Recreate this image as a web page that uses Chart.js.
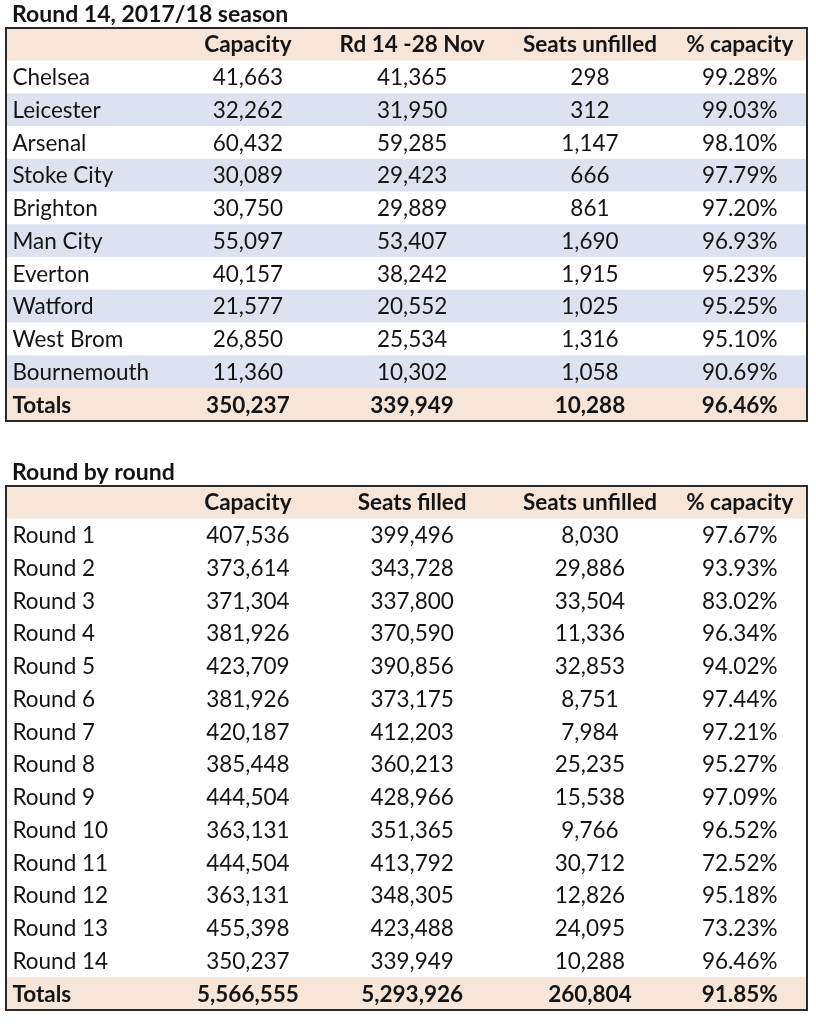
<!DOCTYPE html>
<html>
<head>
<meta charset="utf-8">
<script src="https://cdn.jsdelivr.net/npm/chart.js@4.4.1/dist/chart.umd.min.js"></script>
<style>
    body { margin: 0; background: #fff; }
    .box { position: absolute; left: 0; width: 816px; }
</style>
</head>
<body>
<div class="box" style="top:0; height:430px;"><canvas id="SeasonTable"></canvas></div>
<div class="box" style="top:450px; height:574px;"><canvas id="RoundTable"></canvas></div>
<script>
// Round 14 table
const seasonTitle = 'Round 14, 2017/18 season';
const seasonHeaders = ['Capacity', 'Rd 14 -28 Nov', 'Seats unfilled', '% capacity'];
const seasonTeams = ['Chelsea', 'Leicester', 'Arsenal', 'Stoke City', 'Brighton', 'Man City', 'Everton', 'Watford', 'West Brom', 'Bournemouth'];
const seasonCapacity = [41663, 32262, 60432, 30089, 30750, 55097, 40157, 21577, 26850, 11360];
const seasonAttendance = [41365, 31950, 59285, 29423, 29889, 53407, 38242, 20552, 25534, 10302];
const seasonUnfilled = [298, 312, 1147, 666, 861, 1690, 1915, 1025, 1316, 1058];
const seasonPct = [99.28, 99.03, 98.10, 97.79, 97.20, 96.93, 95.23, 95.25, 95.10, 90.69];
const seasonTotals = [350237, 339949, 10288, 96.46];

// Round by round table
const roundTitle = 'Round by round';
const roundHeaders = ['Capacity', 'Seats filled', 'Seats unfilled', '% capacity'];
const rounds = ['Round 1', 'Round 2', 'Round 3', 'Round 4', 'Round 5', 'Round 6', 'Round 7',
    'Round 8', 'Round 9', 'Round 10', 'Round 11', 'Round 12', 'Round 13', 'Round 14'];
const roundCapacity = [407536, 373614, 371304, 381926, 423709, 381926, 420187, 385448, 444504, 363131, 444504, 363131, 455398, 350237];
const roundFilled = [399496, 343728, 337800, 370590, 390856, 373175, 412203, 360213, 428966, 351365, 413792, 348305, 423488, 339949];
const roundUnfilled = [8030, 29886, 33504, 11336, 32853, 8751, 7984, 25235, 15538, 9766, 30712, 12826, 24095, 10288];
const roundPct = [97.67, 93.93, 83.02, 96.34, 94.02, 97.44, 97.21, 95.27, 97.09, 96.52, 72.52, 95.18, 73.23, 96.46];
const roundTotals = [5566555, 5293926, 260804, 91.85];

const PEACH = '#f7e5d8';
const BLUE = '#dde2f0';
const INK = '#141414';
const FONT = 'Lato, "Open Sans", sans-serif';
// first entry: left edge of row names, others: column centres (share of table width)
const COL_X = [0.008, 0.302, 0.507, 0.729, 0.916];

const fmtInt = v => v.toLocaleString('en-US');
const fmtPct = v => v.toFixed(2) + '%';

function makeTable(id, title, headers, names, cols, totals, striped, padding) {
    const rowNames = ['', ...names, 'Totals'];
    const fills = rowNames.map((n, i) => {
        if (i === 0 || i === rowNames.length - 1) return PEACH;
        return striped && i % 2 === 0 ? BLUE : '#ffffff';
    });

    const cellText = {
        id: 'cellText',
        afterDatasetsDraw(chart) {
            const c = chart.ctx;
            const x = chart.scales.x;
            const y = chart.scales.y;
            const area = chart.chartArea;
            c.save();
            c.fillStyle = INK;
            c.textBaseline = 'alphabetic';

            // title above the box
            c.font = 'bold 23px ' + FONT;
            c.textAlign = 'left';
            c.fillText(title, area.left + 6, area.top - 6);

            rowNames.forEach((name, i) => {
                const py = y.getPixelForValue(i) + 8;
                const bold = i === 0 || i === rowNames.length - 1;
                c.font = (bold ? 'bold ' : '') + '22.5px ' + FONT;
                c.textAlign = 'left';
                c.fillText(name, x.getPixelForValue(COL_X[0]), py);
                c.textAlign = 'center';
                for (let k = 0; k < 4; k++) {
                    let txt;
                    if (i === 0) txt = headers[k];
                    else if (i === rowNames.length - 1) txt = k === 3 ? fmtPct(totals[k]) : fmtInt(totals[k]);
                    else txt = k === 3 ? fmtPct(cols[k][i - 1]) : fmtInt(cols[k][i - 1]);
                    c.fillText(txt, x.getPixelForValue(COL_X[k + 1]), py);
                }
            });

            c.strokeStyle = '#2a2a2a';
            c.lineWidth = 2;
            c.strokeRect(area.left, area.top, area.right - area.left, area.bottom - area.top);
            c.restore();
        }
    };

    return new Chart(document.getElementById(id), {
        type: 'bar',
        data: {
            labels: rowNames,
            datasets: [{
                label: title,
                data: rowNames.map(() => [0, 1]),
                backgroundColor: fills,
                borderWidth: 0,
                barPercentage: 1,
                categoryPercentage: 1
            }]
        },
        options: {
            indexAxis: 'y',
            responsive: true,
            maintainAspectRatio: false,
            animation: false,
            layout: { padding: padding },
            scales: {
                x: { type: 'linear', min: 0, max: 1, display: false },
                y: { type: 'category', offset: true, display: false }
            },
            plugins: {
                legend: { display: false },
                tooltip: { enabled: false },
                title: { display: false }
            }
        },
        plugins: [cellText]
    });
}

makeTable('SeasonTable', seasonTitle, seasonHeaders, seasonTeams,
    [seasonCapacity, seasonAttendance, seasonUnfilled, seasonPct], seasonTotals, true,
    { left: 6, right: 9, top: 28, bottom: 9 });

makeTable('RoundTable', roundTitle, roundHeaders, rounds,
    [roundCapacity, roundFilled, roundUnfilled, roundPct], roundTotals, false,
    { left: 6, right: 9, top: 36, bottom: 14 });
</script>
</body>
</html>
